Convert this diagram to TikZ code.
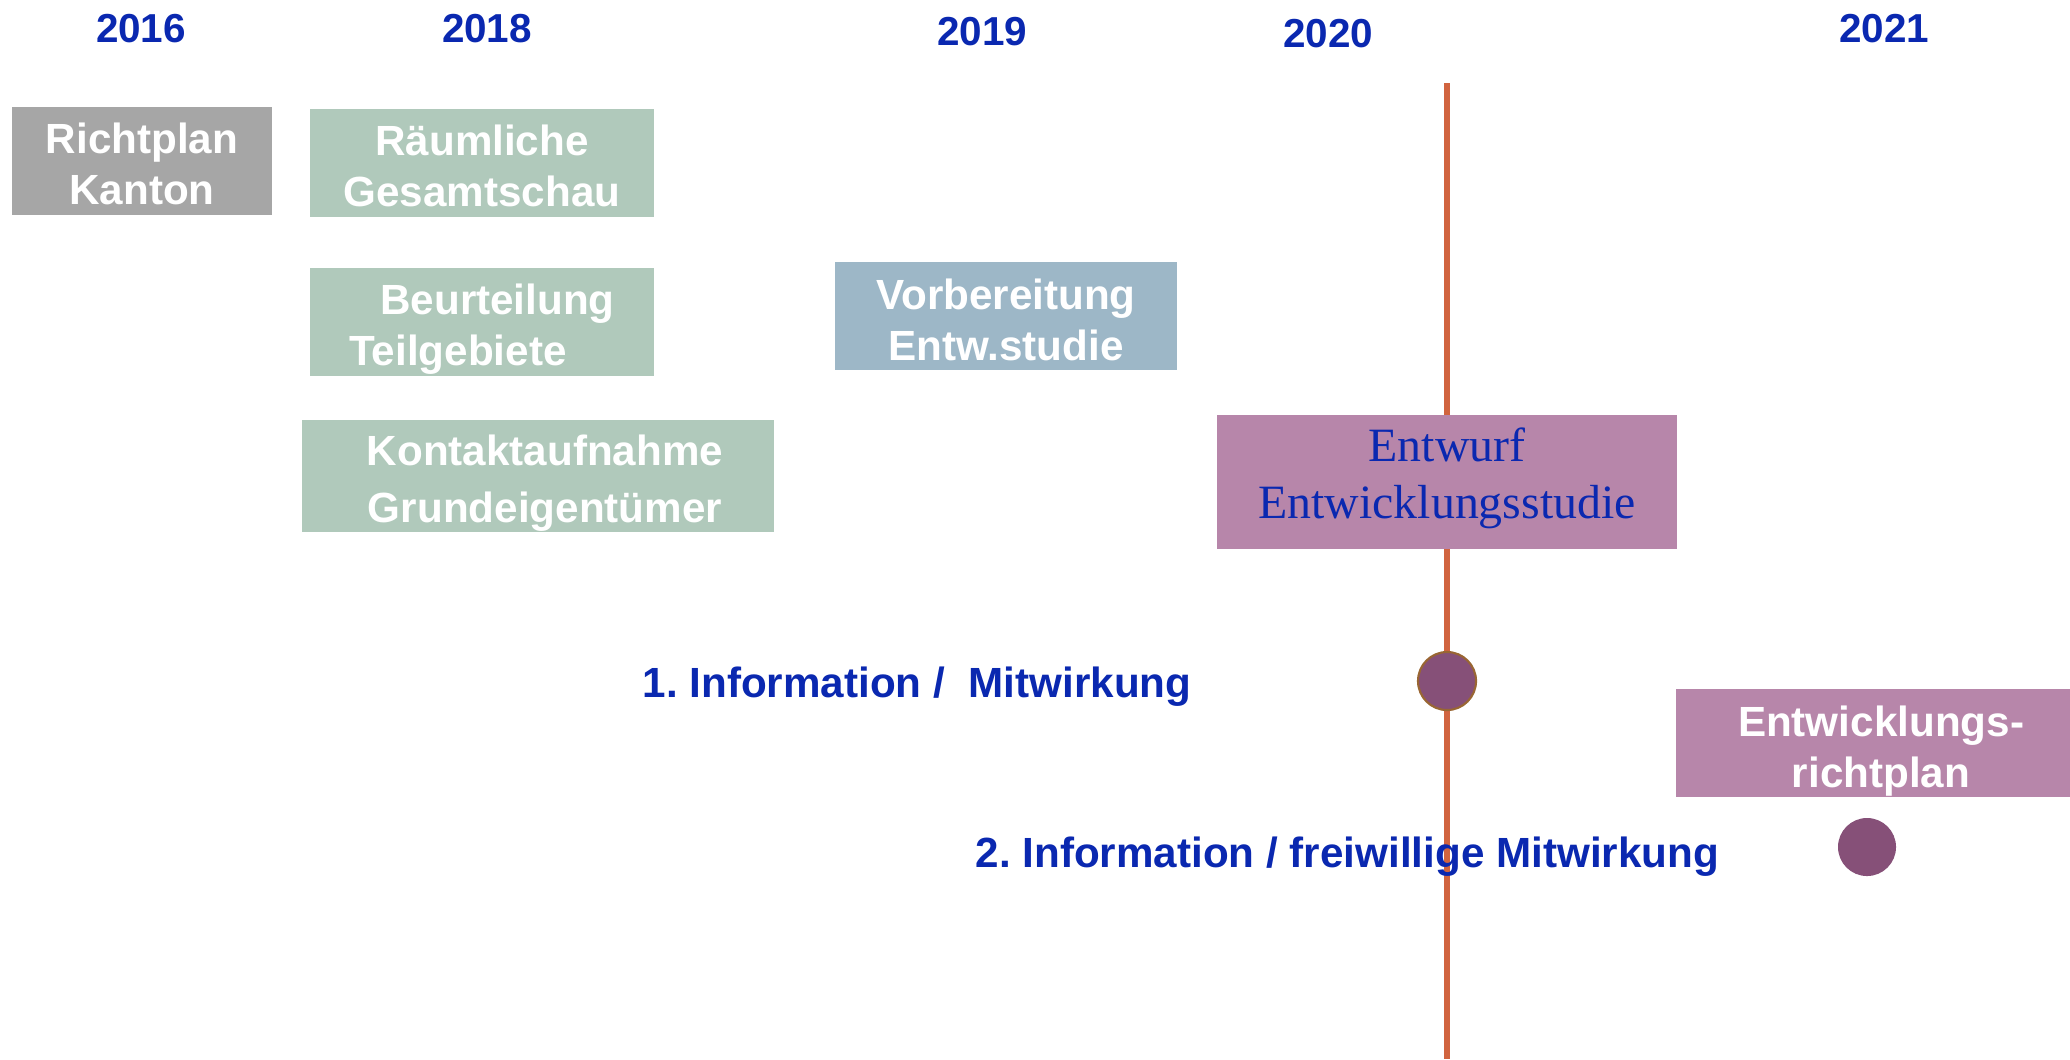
\documentclass[tikz,border=0pt]{standalone}
\usepackage{fontspec}
\setmainfont{Liberation Sans}
\newfontfamily\studiefont{Liberation Serif}
\definecolor{jahrblau}{HTML}{0A28B0}
\definecolor{kantongrau}{HTML}{A6A6A6}
\definecolor{gruen}{HTML}{B0C9BB}
\definecolor{graublau}{HTML}{9DB7C7}
\definecolor{mauve}{HTML}{B786AA}
\definecolor{linienorange}{HTML}{D1643F}
\definecolor{punktlila}{HTML}{865078}
\frenchspacing
\begin{document}
\begin{tikzpicture}[x=0.01cm,y=-0.01cm,
        jahr/.style={anchor=base,inner sep=0pt,text=jahrblau,font=\fontsize{11.5}{13}\selectfont\bfseries},
        feld/.style={inner sep=0pt,align=center,text=white,font=\fontsize{12}{14.6}\selectfont\bfseries},
        info/.style={anchor=base west,inner sep=0pt,text=jahrblau,font=\fontsize{12}{14.6}\selectfont\bfseries},
        punkt/.style={circle,minimum size=0.58cm,inner sep=0pt,fill=punktlila}]
    \useasboundingbox (0,0) rectangle (2070,1059);
    %% Years
    \node[jahr] (j16) at (141,42) {2016};
    \node[jahr] (j18) at (487,42) {2018};
    \node[jahr] (j19) at (982,45) {2019};
    \node[jahr] (j20) at (1328,47) {2020};
    \node[jahr] (j21) at (1884,42) {2021};
    %% Timeline
    \coordinate (oben) at (1447,83);
    \coordinate (unten) at (1447,1059);
    \draw[linienorange,line width=1.8pt] (oben) to (unten);
    %% Boxes 2016 - 2019
    \node[feld,fill=kantongrau,minimum width=2.60cm,minimum height=1.08cm] (kanton) at (142,161) {\rule{0pt}{0.36cm}Richtplan\\Kanton};
    \node[feld,fill=gruen,minimum width=3.43cm,minimum height=1.08cm] (gesamtschau) at (482,163) {\rule{0pt}{0.36cm}R\"aumliche\\Gesamtschau};
    \node[feld,fill=gruen,minimum width=3.43cm,minimum height=1.08cm,align=left] (teilgebiete) at (482,322) {\rule{0pt}{0.45cm}\hspace*{0.31cm}Beurteilung\\Teilgebiete};
    \node[feld,fill=gruen,minimum width=4.72cm,minimum height=1.12cm] (kontakt) at (538,476) {\rule{0pt}{0.45cm}\hspace*{0.14cm}Kontaktaufnahme\\[0.05cm]\hspace*{0.14cm}Grundeigent\"umer};
    \node[feld,fill=graublau,minimum width=3.42cm,minimum height=1.07cm] (vorbereitung) at (1006,316) {\rule{0pt}{0.38cm}Vorbereitung\\Entw.studie};
    %% Box 2020
    \node[feld,fill=mauve,minimum width=4.60cm,minimum height=1.33cm,text=jahrblau,
        font=\studiefont\fontsize{13.6}{16.3}\selectfont] (entwurf) at (1447,482) {Entwurf\\Entwicklungsstudie\rule[-0.18cm]{0pt}{0pt}};
    %% Information / Mitwirkung
    \node[punkt,draw=brown!80!black,line width=0.6pt] (info1) at (1447,681) {};
    \node[info] (text1) at (642,697) {1. Information /~~Mitwirkung};
    \node[feld,fill=mauve,minimum width=3.93cm,minimum height=1.08cm] (erp) at (1873,743) {\rule{0pt}{0.47cm}\hspace*{0.16cm}Entwicklungs-\\\hspace*{0.16cm}richtplan};
    \node[punkt] (info2) at (1867,847) {};
    \node[info] (text2) at (975,867) {2. Information / freiwillige Mitwirkung};
\end{tikzpicture}
\end{document}
